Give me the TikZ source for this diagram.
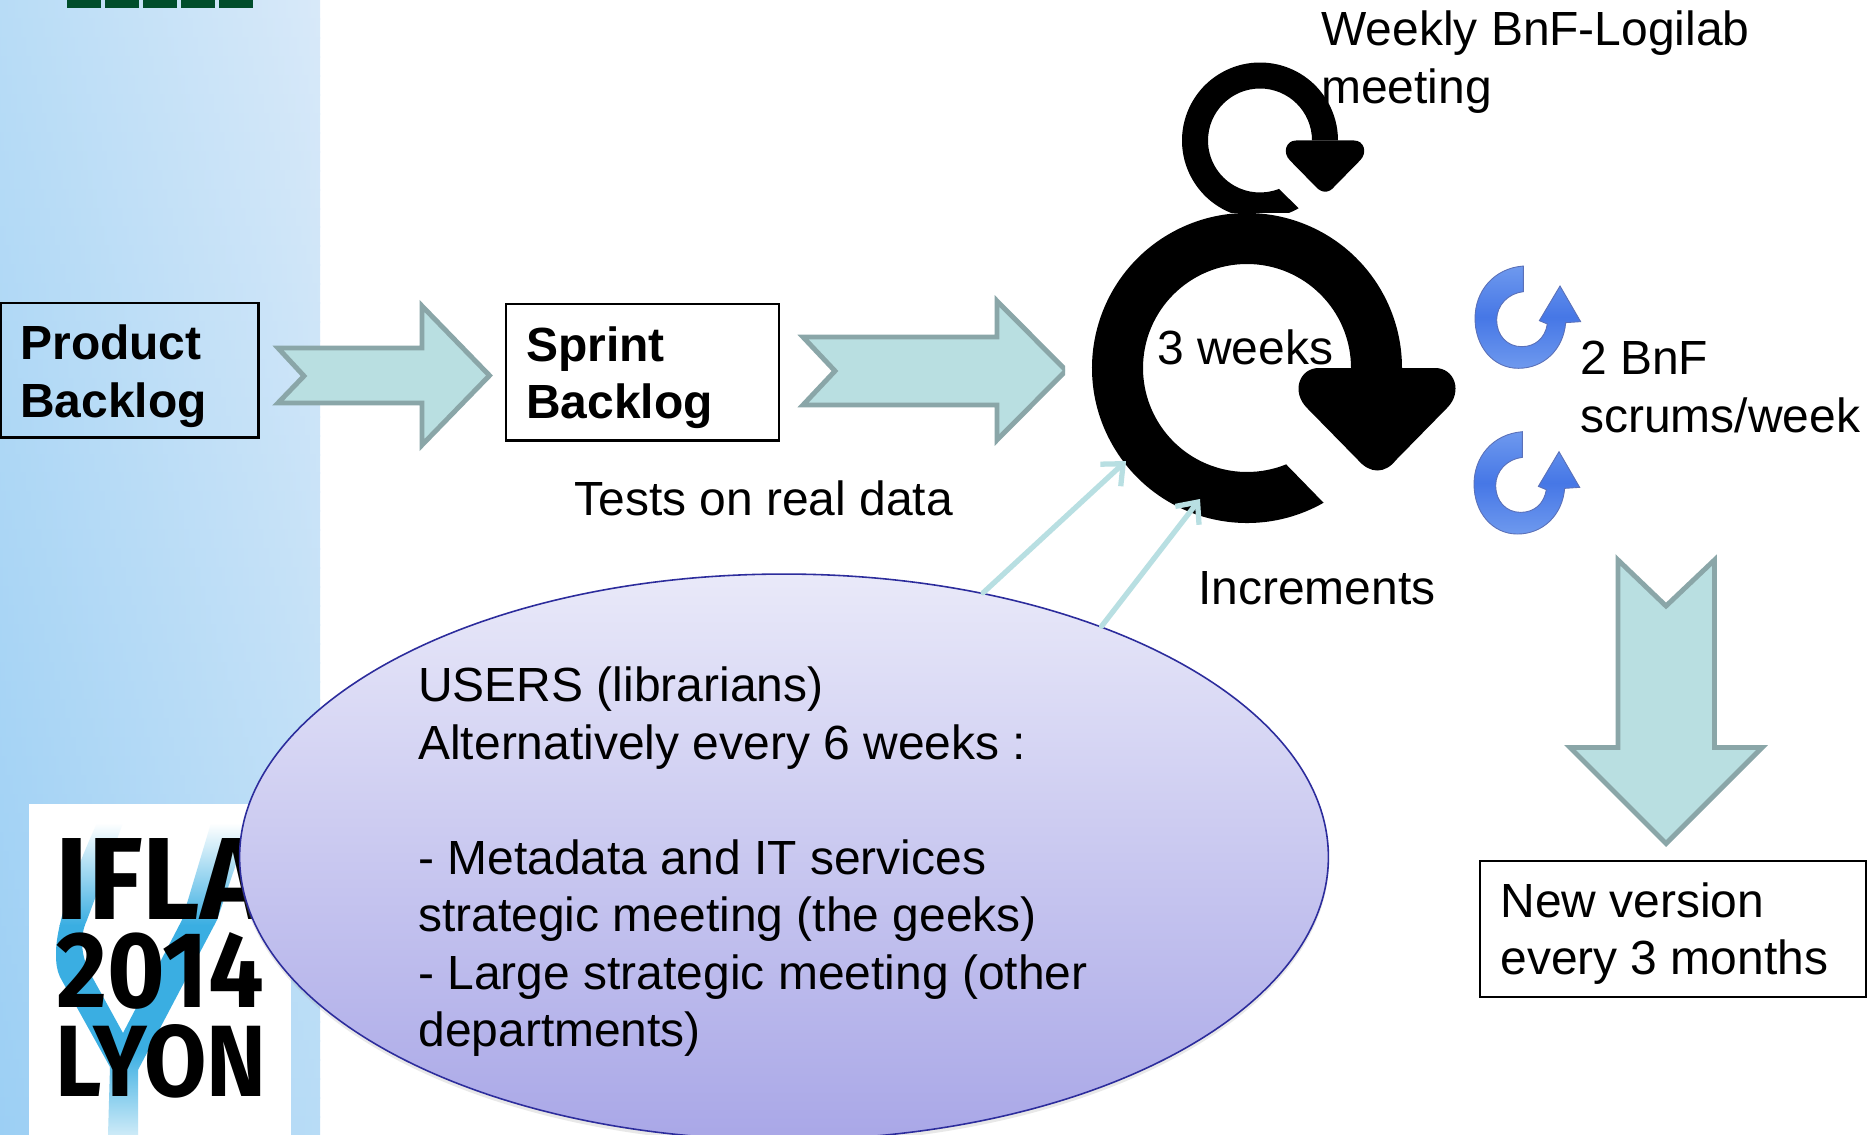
\documentclass[tikz,border=0pt]{standalone}
\usepackage{fontspec}
\setmainfont{Liberation Sans}
\newfontfamily\logofont{Fira Sans}
\usetikzlibrary{shapes.geometric,arrows.meta}
\definecolor{panelLow}{HTML}{9CCFF4}
\definecolor{panelMid}{HTML}{B8DCF6}
\definecolor{panelHigh}{HTML}{D8E9F9}
\definecolor{logoGreen}{HTML}{004D2B}
\definecolor{logoBlue}{HTML}{3AAEE2}
\definecolor{blockFill}{HTML}{B9DFE1}
\definecolor{blockEdge}{HTML}{8AA6A8}
\definecolor{linkTeal}{HTML}{B8DFE2}
\definecolor{ellTop}{HTML}{E9E9F9}
\definecolor{ellBottom}{HTML}{A9A7E7}
\definecolor{ellEdge}{HTML}{2C2C9C}
\definecolor{spinEdge}{HTML}{5A70B8}
\definecolor{spinLight}{HTML}{6E99EE}
\definecolor{spinDark}{HTML}{4677E6}
\tikzset{
  txt/.style={font=\fontsize{27.3}{32.7}\selectfont,align=left,inner sep=0pt,anchor=base west,text=black},
  boldtxt/.style={txt,font=\fontsize{27.3}{32.7}\selectfont\bfseries},
  blockarrow/.style={fill=blockFill,draw=blockEdge,line width=2.8pt,miter limit=10},
  textbox/.style={draw=black,line width=1.2pt,fill=none,inner sep=0pt,anchor=north west},
  linkarrow/.style={draw=linkTeal,line width=3pt,line cap=round,-{Straight Barb[length=0.34cm,width=0.6cm,line width=3pt]}},
  spin/.style={draw=spinEdge,line width=0.5pt,top color=spinLight,bottom color=spinLight,middle color=spinDark},
  logotext/.style={inner sep=0pt,anchor=south west}
}
\newcommand{\spinarrow}{%
  \path[spin] (220,48) .. controls (130,55) and (75,125) .. (75,205)
    .. controls (75,290) and (130,355) .. (205,355)
    .. controls (280,355) and (340,300) .. (347,218)
    -- (392,215) -- (330,108) -- (268,212) -- (292,222)
    .. controls (285,265) and (255,290) .. (215,290)
    .. controls (170,290) and (140,255) .. (140,210)
    .. controls (140,165) and (175,130) .. (220,125) -- cycle;}
\newcommand{\loophead}{%
  \fill[black] (-58,0) .. controls (-78,0) and (-86,24) .. (-70,40) -- (-19,92)
    .. controls (-7,106) and (8,106) .. (19,92) -- (70,40)
    .. controls (86,24) and (78,0) .. (58,0) -- cycle;}
\begin{document}
\begin{tikzpicture}[x=0.02cm,y=-0.02cm]
\path[use as bounding box,clip] (0,0) rectangle (1876,1135);
\fill[white] (0,0) rectangle (1876,1135);
% side panel
\foreach \i [evaluate=\i as \p using {(\i+0.5)*100/60}, evaluate=\i as \ya using {\i*18.9167}, evaluate=\i as \yb using {(\i+1)*18.9167+1}] in {0,...,59}{
  \path[left color=panelLow!\p!panelMid,right color=panelMid!\p!panelHigh] (0,\ya) rectangle (320,\yb);
}
% green bar
\foreach \a/\b in {67/101,105/139,143/177,181/215,219/253}
  \fill[logoGreen] (\a,0) rectangle (\b,8);
% logo
\fill[white] (29,804) rectangle (291,1135);
\begin{scope}
  \clip (97,823) .. controls (80,860) and (56,920) .. (56,953)
     .. controls (56,965) and (57,970) .. (60,977)
     -- (110,1067) -- (108,1135) -- (138,1135) -- (138,1070)
     -- (217,920) -- (250,823) -- (211,823) -- (182,920) -- (123,1033)
     -- (90,973) .. controls (78,950) and (82,930) .. (87,920) -- (123,823) -- cycle;
  \path[top color=white,bottom color=logoBlue] (40,823) rectangle (280,925);
  \fill[logoBlue] (40,925) rectangle (280,1050);
  \path[top color=logoBlue,bottom color=logoBlue!25] (40,1050) rectangle (280,1135);
\end{scope}
\node[logotext] (logoa) at (55,920) {\resizebox{4.22cm}{1.62cm}{\logofont\bfseries IFLA}};
\node[logotext] (logob) at (56,1010) {\resizebox{4.16cm}{1.5cm}{\logofont\bfseries 2014}};
\node[logotext] (logoc) at (55,1099) {\resizebox{4.22cm}{1.44cm}{\logofont\bfseries LYON}};
% block arrows
\path[blockarrow] (278,348) -- (422,348) -- (422,306) -- (489.5,375.5) -- (422,445) -- (422,403) -- (278,403) -- (304,376) -- cycle;
\begin{scope}
  \clip (700,280) rectangle (1065,460);
  \path[blockarrow] (803,337) -- (997,337) -- (997,301) -- (1066,370.5) -- (997,440) -- (997,405) -- (803,405) -- (835,371) -- cycle;
\end{scope}
\path[blockarrow] (1618,560) -- (1666,606) -- (1714.5,560) -- (1714.5,747.5) -- (1762,747.5) -- (1666,843.5) -- (1570,747.5) -- (1618,747.5) -- cycle;
% boxes
\node[textbox,minimum width=5.15cm,minimum height=2.7cm] (product) at (0,301.5) {};
\node[textbox,minimum width=5.46cm,minimum height=2.73cm] (sprint) at (505,303) {};
\node[textbox,minimum width=7.72cm,minimum height=2.72cm] (newver) at (1479,860) {};
% big loop
\begin{scope}[shift={(1247,368)}]
  \fill[black] (60.4:155) arc[start angle=60.4,end angle=360,radius=155] -- (360:104) arc[start angle=360,end angle=67.9,radius=104] -- cycle;
\end{scope}
\begin{scope}[shift={(1377,368)},x=0.02cm,y=-0.02cm]
  \loophead
\end{scope}
% small loop
\begin{scope}
  \clip (1150,40) rectangle (1400,212.5);
  \begin{scope}[shift={(1260,140.5)}]
    \fill[black] (60.3:78) arc[start angle=60.3,end angle=360,radius=78] -- (360:52) arc[start angle=360,end angle=68.6,radius=52] -- cycle;
  \end{scope}
\end{scope}
\begin{scope}[shift={(1325,140.5)},x=0.01cm,y=-0.01cm]
  \loophead
\end{scope}
% spin arrows
\begin{scope}[shift={(1450,250)},x=0.006667cm,y=-0.006667cm]
  \spinarrow
\end{scope}
\begin{scope}[shift={(1449,415.7)},x=0.006667cm,y=-0.006667cm]
  \spinarrow
\end{scope}
% users ellipse
\path[fill=black!35,opacity=0.25] (784,860) ellipse[x radius=545,y radius=284];
\node[ellipse,draw=ellEdge,line width=0.9pt,top color=ellTop,bottom color=ellBottom,minimum width=21.78cm,minimum height=11.32cm,inner sep=0pt] (users) at (784,857) {};
\coordinate (hitA) at (1126,461);
\coordinate (hitB) at (1200,499);
\draw[linkarrow] (users.53.4) -- (hitA);
\draw[linkarrow] (users.36.3) -- (hitB);
% texts
\node[boldtxt] (tproduct) at (20,417.3) {Product\\Backlog};
\node[boldtxt] (tsprint) at (526,418.7) {Sprint\\Backlog};
\node[txt] (ttests) at (574,515.7) {Tests on real data};
\node[txt] (tinc) at (1198,604.7) {Increments};
\node[txt] (t3w) at (1157,364.7) {3 weeks};
\node[txt] (tweekly) at (1321,103.2) {Weekly BnF-Logilab\\meeting};
\node[txt] (tscrum) at (1580,432.4) {2 BnF\\scrums/week};
\node[txt] (tnew) at (1500,974.7) {New version\\every 3 months};
\node[txt] (tusers) at (418,1046.5) {USERS (librarians)\\Alternatively every 6 weeks :\\~\\- Metadata and IT services\\strategic meeting (the geeks)\\- Large strategic meeting (other\\departments)};
\end{tikzpicture}
\end{document}
